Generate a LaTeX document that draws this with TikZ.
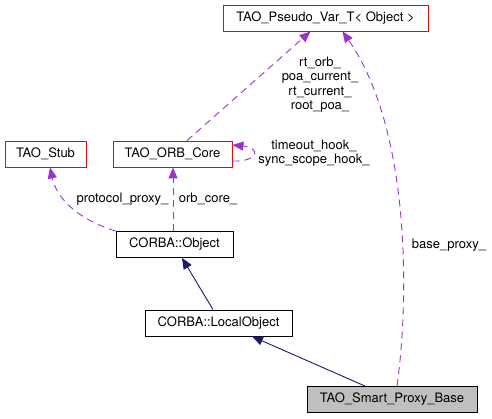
\documentclass[tikz,border=0pt]{standalone}
\usepackage{fontspec}
\setmainfont{TeX Gyre Heros}
\usetikzlibrary{arrows.meta,calc}
\definecolor{edgered}{HTML}{FF0000}
\definecolor{relpurple}{HTML}{9A32CD}
\definecolor{inhnavy}{HTML}{191970}
\definecolor{boxgray}{HTML}{BFBFBF}
\begin{document}
\begin{tikzpicture}[x=1pt,y=-1pt,
  font=\fontsize{13}{14.4}\selectfont,
  cls/.style={draw=black,line width=0.85pt,fill=white,inner sep=0pt,minimum height=26pt},
  redcls/.style={cls,draw=edgered},
  graycls/.style={cls,fill=boxgray},
  inh/.style={draw=inhnavy,line width=0.9pt,-{Triangle[length=11pt,width=9pt]}},
  rel/.style={draw=relpurple,line width=0.9pt,dash pattern=on 7pt off 5pt,-{Triangle[length=11pt,width=9pt]}},
  lbl/.style={inner sep=0pt,align=center}]
\useasboundingbox (0,0) rectangle (492,419);
% classes
\node[redcls,minimum width=205pt] (pv) at (325.5,18) {TAO\_Pseudo\_Var\_T< Object >};
\node[redcls,minimum width=81pt] (stub) at (45.5,154) {TAO\_Stub};
\node[redcls,minimum width=119pt] (orb) at (172.5,154) {TAO\_ORB\_Core};
\node[cls,minimum width=117pt] (obj) at (174.5,244.5) {CORBA::Object};
\node[cls,minimum width=147pt] (lo) at (218.5,323) {CORBA::LocalObject};
\node[graycls,minimum width=170pt] (sp) at (392,399.5) {TAO\_Smart\_Proxy\_Base};
% inheritance
\draw[inh] ($(lo.north)+(-5.5,0)$) -- ($(obj.south)+(7.5,0)$);
\draw[inh] ($(sp.north)+(-27,0)$) -- ($(lo.south)+(33.5,0)$);
% usage relations
\draw[rel] ($(sp.north)+(5,0)$) .. controls (409,300) and (411,130) .. ($(pv.south)+(17,0)$);
\draw[rel] ($(orb.north)+(14.5,0)$) -- ($(pv.south)+(-15,0)$);
\draw[rel] (obj.north west) .. controls (80,220) and (57,200) .. ($(stub.south)+(4.5,0)$);
\draw[rel] ($(obj.north)+(-1.5,0)$) -- ($(orb.south)+(0.5,0)$);
\draw[rel] ($(orb.east)+(0,7)$) .. controls (258,162) and (262,148) .. ($(orb.east)+(0,-9)$);
% labels
\node[lbl] (l1) at (320,84.5) {rt\_orb\_\\poa\_current\_\\rt\_current\_\\root\_poa\_};
\node[lbl] (l2) at (314,153) {timeout\_hook\_\\sync\_scope\_hook\_};
\node[lbl] (l3) at (122.5,199) {protocol\_proxy\_};
\node[lbl] (l4) at (208,199) {orb\_core\_};
\node[lbl] (l5) at (449,245) {base\_proxy\_};
\end{tikzpicture}
\end{document}
